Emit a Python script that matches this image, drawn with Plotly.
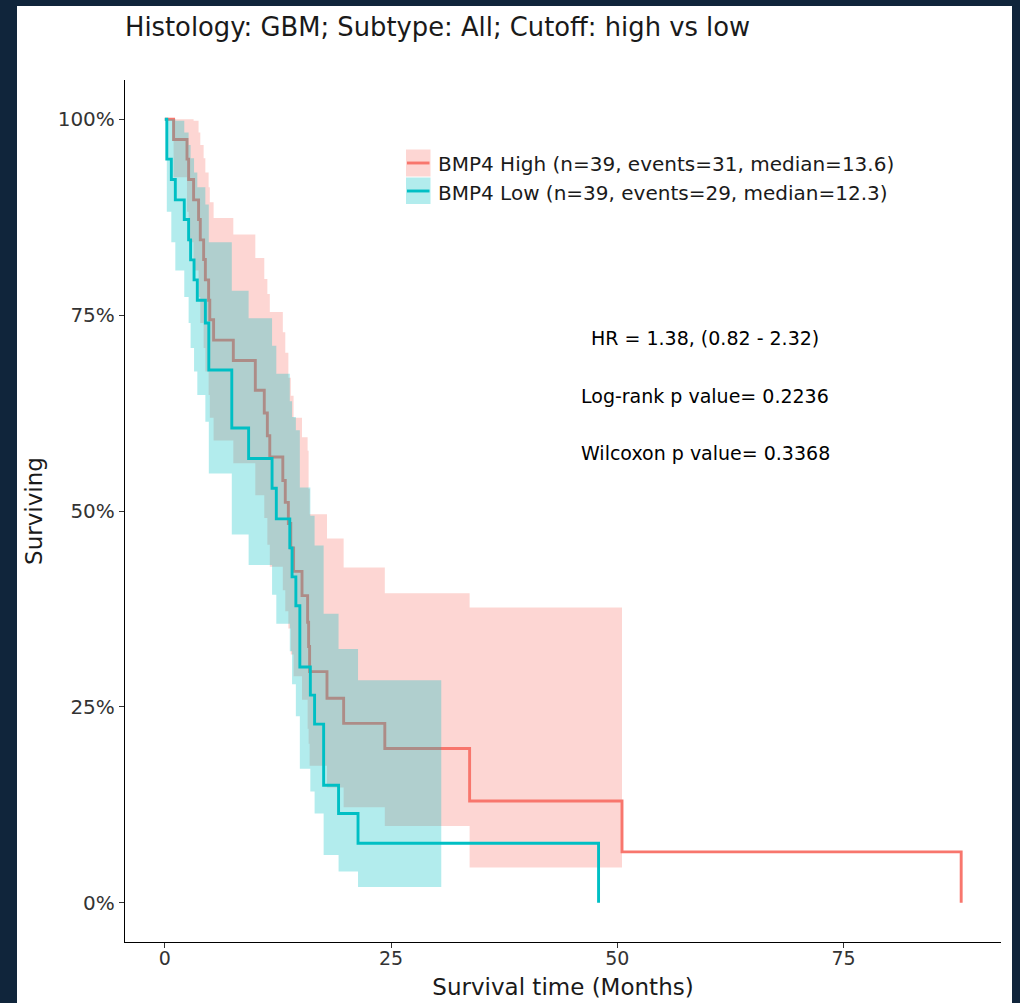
import plotly.graph_objects as go

# ---------------- data ----------------
# BMP4 High: Kaplan-Meier step curve (time in months, survival fraction)
high_time = [0, 0.97, 2.45, 2.63, 3.18, 3.73, 3.92, 4.29, 4.48, 4.84, 4.97, 5.39, 7.57,
             10.0, 10.99, 11.33, 11.6, 13.04, 13.31, 13.65, 13.92, 14.23, 15.16, 15.78,
             15.89, 16.0, 17.92, 19.76, 24.31, 33.68, 50.52, 88.0]
high_surv = [1.0, 0.974, 0.949, 0.923, 0.897, 0.872, 0.846, 0.821, 0.795, 0.769, 0.744, 0.718,
             0.692, 0.654, 0.625, 0.596, 0.569, 0.539, 0.511, 0.484, 0.453, 0.423, 0.392,
             0.358, 0.327, 0.295, 0.261, 0.229, 0.197, 0.130, 0.065, 0.0]
# BMP4 High: confidence band
high_band_time = [0, 0.97, 2.45, 2.63, 3.18, 3.73, 3.92, 4.29, 4.48, 4.84, 4.97, 5.39, 7.57,
                  10.0, 10.99, 11.33, 11.6, 13.04, 13.31, 13.65, 13.92, 14.23, 15.16, 15.78,
                  15.89, 16.0, 17.92, 19.76, 24.31, 33.68, 50.52]
high_upper = [1.0, 1.0, 1.0, 1.0, 0.998, 0.983, 0.967, 0.950, 0.932, 0.913, 0.894, 0.874,
              0.853, 0.823, 0.796, 0.777, 0.754, 0.728, 0.702, 0.670, 0.647, 0.619, 0.594,
              0.577, 0.528, 0.496, 0.465, 0.428, 0.395, 0.377, 0.377]
high_lower = [1.0, 0.926, 0.882, 0.843, 0.807, 0.773, 0.740, 0.708, 0.678, 0.648, 0.619, 0.590,
              0.561, 0.520, 0.491, 0.457, 0.429, 0.399, 0.372, 0.350, 0.317, 0.289, 0.259,
              0.222, 0.203, 0.175, 0.147, 0.122, 0.098, 0.045, 0.045]

# BMP4 Low: Kaplan-Meier step curve
low_time = [0, 0.22, 0.72, 1.16, 2.15, 2.63, 2.85, 3.23, 3.59, 4.48, 4.86, 7.40, 9.26,
            11.85, 12.32, 13.81, 14.06, 14.48, 14.92, 16.08, 16.55, 17.55, 19.2, 21.35, 47.93]
low_surv = [1.0, 0.949, 0.923, 0.897, 0.872, 0.846, 0.8205, 0.795, 0.769, 0.740, 0.680, 0.606,
            0.567, 0.529, 0.490, 0.453, 0.416, 0.379, 0.301, 0.265, 0.228, 0.150, 0.114,
            0.076, 0.0]
# BMP4 Low: confidence band
low_band_time = [0, 0.22, 0.72, 1.16, 2.15, 2.63, 2.85, 3.23, 3.59, 4.48, 4.86, 7.40, 9.26,
                 11.85, 12.32, 13.81, 14.06, 14.48, 14.92, 16.08, 16.55, 17.55, 19.2, 21.35, 30.55]
low_upper = [1.0, 1.0, 1.0, 0.998, 0.983, 0.967, 0.950, 0.932, 0.913, 0.891, 0.843, 0.781,
             0.746, 0.711, 0.675, 0.640, 0.620, 0.603, 0.530, 0.494, 0.456, 0.369, 0.324,
             0.284, 0.284]
low_lower = [1.0, 0.882, 0.843, 0.807, 0.773, 0.740, 0.708, 0.678, 0.648, 0.614, 0.548, 0.470,
             0.431, 0.393, 0.356, 0.321, 0.279, 0.238, 0.171, 0.142, 0.114, 0.061, 0.040,
             0.0203, 0.0203]

legend_labels = ["BMP4 High (n=39, events=31, median=13.6)",
                 "BMP4 Low (n=39, events=29, median=12.3)"]
stats_text = ["HR = 1.38, (0.82 - 2.32)", "Log-rank p value= 0.2236", "Wilcoxon p value= 0.3368"]
stats_y = [0.721, 0.647, 0.5745]
x_ticks = [0, 25, 50, 75]
y_ticks = [0, 0.25, 0.5, 0.75, 1.0]
y_tick_text = ["0%", "25%", "50%", "75%", "100%"]

# ---------------- styling ----------------
RED = "#F8766D"
CYAN = "#00BFC4"
RED_FILL = "rgba(248,118,109,0.3)"
CYAN_FILL = "rgba(0,191,196,0.3)"
FONT = "DejaVu Sans"
NAVY = "#10253B"
LW = 2.9

fig = go.Figure()

# red band + line
fig.add_trace(go.Scatter(x=high_band_time, y=high_lower, mode="lines", line=dict(width=0, shape="hv", color=RED),
                         showlegend=False, hoverinfo="skip"))
fig.add_trace(go.Scatter(x=high_band_time, y=high_upper, mode="lines", line=dict(width=0, shape="hv", color=RED),
                         fill="tonexty", fillcolor=RED_FILL, showlegend=False, hoverinfo="skip"))
fig.add_trace(go.Scatter(x=high_time, y=high_surv, mode="lines", line=dict(width=LW, shape="hv", color=RED),
                         name=legend_labels[0], showlegend=False))
# cyan band + line
fig.add_trace(go.Scatter(x=low_band_time, y=low_lower, mode="lines", line=dict(width=0, shape="hv", color=CYAN),
                         showlegend=False, hoverinfo="skip"))
fig.add_trace(go.Scatter(x=low_band_time, y=low_upper, mode="lines", line=dict(width=0, shape="hv", color=CYAN),
                         fill="tonexty", fillcolor=CYAN_FILL, showlegend=False, hoverinfo="skip"))
fig.add_trace(go.Scatter(x=low_time, y=low_surv, mode="lines", line=dict(width=LW, shape="hv", color=CYAN),
                         name=legend_labels[1], showlegend=False))

W, H = 1020, 1003
ML, MR, MT, MB = 125, 19, 80, 61
pw, ph = W - ML - MR, H - MT - MB


def px(xp):
    return (xp - ML) / pw


def py(yp):
    return (H - MB - yp) / ph


shapes = [
    # white card on navy page
    dict(type="rect", xref="paper", yref="paper", x0=px(17), x1=px(1012), y0=py(1010), y1=py(6),
         fillcolor="white", line=dict(width=0), layer="below"),
    # legend keys
    dict(type="rect", xref="paper", yref="paper", x0=px(406), x1=px(430.5), y0=py(176.5), y1=py(149.5),
         fillcolor=RED_FILL, line=dict(width=0)),
    dict(type="rect", xref="paper", yref="paper", x0=px(406), x1=px(430.5), y0=py(204), y1=py(177.5),
         fillcolor=CYAN_FILL, line=dict(width=0)),
    dict(type="line", xref="paper", yref="paper", x0=px(407), x1=px(429.5), y0=py(163), y1=py(163),
         line=dict(color=RED, width=LW)),
    dict(type="line", xref="paper", yref="paper", x0=px(407), x1=px(429.5), y0=py(191), y1=py(191),
         line=dict(color=CYAN, width=LW)),
]

annotations = []
for i, lab in enumerate(legend_labels):
    annotations.append(dict(text=lab, xref="paper", yref="paper", x=px(435.5), y=py(164 + 28.5 * i),
                            xanchor="left", yanchor="middle", showarrow=False,
                            font=dict(family=FONT, size=20, color="#1a1a1a")))
for t, yv in zip(stats_text, stats_y):
    annotations.append(dict(text=t, x=59.7, y=yv, xref="x", yref="y", xanchor="center", yanchor="middle",
                            showarrow=False, font=dict(family=FONT, size=19, color="#000000")))

fig.update_layout(
    width=W, height=H,
    margin=dict(l=ML, r=MR, t=MT, b=MB, pad=0, autoexpand=False),
    paper_bgcolor=NAVY, plot_bgcolor="white",
    font=dict(family=FONT, color="#000000"),
    title=dict(text="Histology: GBM; Subtype: All; Cutoff: high vs low", xref="paper", x=0, xanchor="left",
               yref="container", y=1 - 27 / H, yanchor="middle",
               font=dict(family=FONT, size=25.8, color="#1a1a1a")),
    shapes=shapes,
    annotations=annotations,
    showlegend=False,
)
fig.update_xaxes(range=[-4.4, 92.4], tickvals=x_ticks, ticks="outside", ticklen=5, tickwidth=1.2,
                 tickcolor="#333333", showline=True, linecolor="#000000", linewidth=1.3,
                 showgrid=False, zeroline=False, automargin=False, ticklabelstandoff=-6,
                 tickfont=dict(family=FONT, size=19, color="#333333"),
                 title=dict(text="Survival time (Months)", font=dict(family=FONT, size=23, color="#1a1a1a"),
                            standoff=10))
fig.update_yaxes(range=[-0.05, 1.05], tickvals=y_ticks, ticktext=y_tick_text, ticks="outside", ticklen=5,
                 tickwidth=1.2, tickcolor="#333333", showline=True, linecolor="#000000", linewidth=1.3,
                 showgrid=False, zeroline=False, automargin=False,
                 tickfont=dict(family=FONT, size=20, color="#333333"),
                 title=dict(text="Surviving", font=dict(family=FONT, size=23, color="#1a1a1a"),
                            standoff=8))

fig.write_html("out.html", config={"displayModeBar": False},
               post_script="document.body.style.margin='0px';document.body.style.overflow='hidden';")
